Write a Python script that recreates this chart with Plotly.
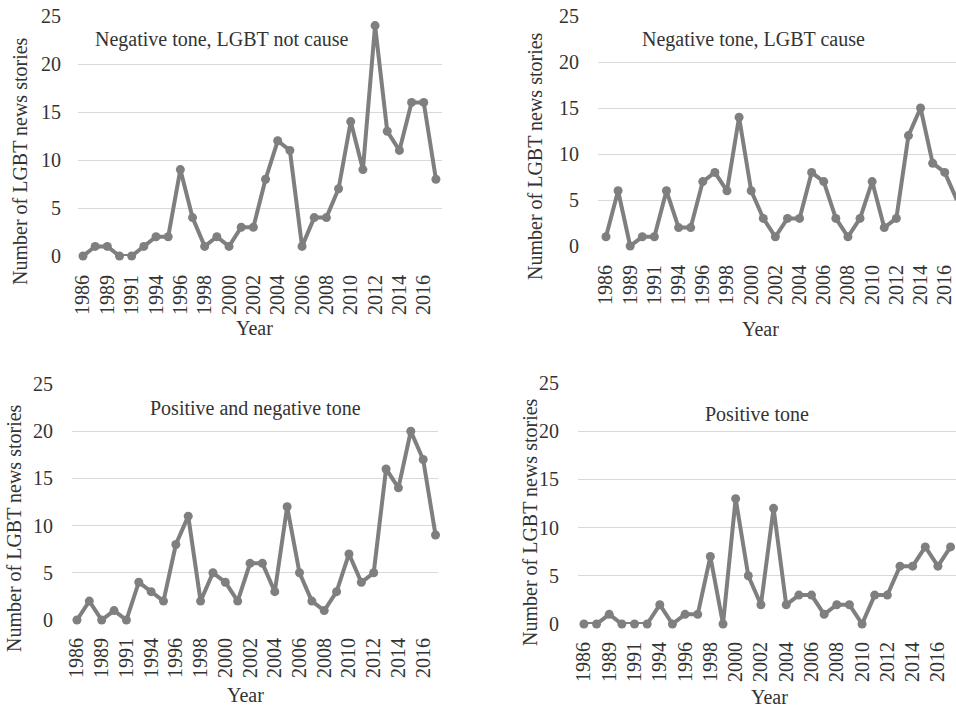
import plotly.graph_objects as go

W, H = 956, 707

years = ["1986", "1987", "1989", "1990", "1991", "1993", "1994", "1995", "1996", "1997",
         "1998", "1999", "2000", "2001", "2002", "2003", "2004", "2005", "2006", "2007",
         "2008", "2009", "2010", "2011", "2012", "2013", "2014", "2015", "2016", "2017"]
tick_years = years[::2]

neg_not_cause = [0, 1, 1, 0, 0, 1, 2, 2, 9, 4, 1, 2, 1, 3, 3, 8, 12, 11, 1, 4,
                 4, 7, 14, 9, 24, 13, 11, 16, 16, 8]
neg_cause = [1, 6, 0, 1, 1, 6, 2, 2, 7, 8, 6, 14, 6, 3, 1, 3, 3, 8, 7, 3,
             1, 3, 7, 2, 3, 12, 15, 9, 8, 5]
pos_and_neg = [0, 2, 0, 1, 0, 4, 3, 2, 8, 11, 2, 5, 4, 2, 6, 6, 3, 12, 5, 2,
               1, 3, 7, 4, 5, 16, 14, 20, 17, 9]
positive = [0, 0, 1, 0, 0, 0, 2, 0, 1, 1, 7, 0, 13, 5, 2, 12, 2, 3, 3, 1,
            2, 2, 0, 3, 3, 6, 6, 8, 6, 8]

panel_titles = ["Negative tone, LGBT not cause", "Negative tone, LGBT cause",
                "Positive and negative tone", "Positive tone"]
y_title = "Number of LGBT news stories"
x_title = "Year"
y_ticks = [0, 5, 10, 15, 20, 25]

FONT = "Liberation Serif"
TXT = "#333333"
LINE = "#7f7f7f"
GRID = "#d9d9d9"

panels = [
    dict(data=neg_not_cause, x0=78, x1=442, yt=16, yb=256, xr=[-0.41, 29.5],
         tc=(222, 40), ytc=(20, 161), xtc=(254, 328), ylo=16, xlo=14),
    dict(data=neg_cause, x0=598, x1=956, yt=16, yb=246, xr=[-0.66, 28.93],
         tc=(753, 40), ytc=(535, 156), xtc=(760, 329), ylo=18, xlo=14),
    dict(data=pos_and_neg, x0=72, x1=438, yt=384, yb=620, xr=[-0.40, 29.2],
         tc=(255, 408), ytc=(14, 528), xtc=(246, 695), ylo=18, xlo=13),
    dict(data=positive, x0=578, x1=956, yt=383, yb=624, xr=[-0.47, 29.43],
         tc=(757, 414), ytc=(530, 522), xtc=(769, 697), ylo=18, xlo=13),
]

fig = go.Figure()
annotations = []
for i, p in enumerate(panels, start=1):
    xa = "x" if i == 1 else f"x{i}"
    ya = "y" if i == 1 else f"y{i}"
    fig.add_trace(go.Scatter(
        x=years, y=p["data"], mode="lines+markers", xaxis=xa, yaxis=ya,
        line=dict(color=LINE, width=4), marker=dict(color=LINE, size=9),
        cliponaxis=False, showlegend=False, hoverinfo="x+y"))
    xkey = "xaxis" if i == 1 else f"xaxis{i}"
    ykey = "yaxis" if i == 1 else f"yaxis{i}"
    fig.layout[xkey] = dict(
        domain=[p["x0"] / W, min(p["x1"] / W, 1.0)], anchor=ya,
        type="category", range=p["xr"], tickmode="array",
        tickvals=tick_years, ticktext=tick_years, tickangle=-90,
        showgrid=False, zeroline=False, showline=False, ticks="",
        automargin=False, ticklabelstandoff=p["xlo"],
        tickfont=dict(family=FONT, size=20, color=TXT))
    fig.layout[ykey] = dict(
        domain=[1 - p["yb"] / H, 1 - p["yt"] / H], anchor=xa,
        range=[0, 25], tickmode="array", tickvals=y_ticks,
        showgrid=True, gridcolor=GRID, gridwidth=1, zeroline=False,
        showline=False, ticks="", automargin=False,
        ticklabelstandoff=p["ylo"],
        tickfont=dict(family=FONT, size=20, color=TXT))
    annotations.append(dict(text=panel_titles[i - 1], x=p["tc"][0] / W, y=1 - p["tc"][1] / H,
                            xref="paper", yref="paper", showarrow=False,
                            xanchor="center", yanchor="middle",
                            font=dict(family=FONT, size=20, color=TXT)))
    annotations.append(dict(text=y_title, x=p["ytc"][0] / W, y=1 - p["ytc"][1] / H,
                            xref="paper", yref="paper", showarrow=False, textangle=-90,
                            xanchor="center", yanchor="middle",
                            font=dict(family=FONT, size=20, color=TXT)))
    annotations.append(dict(text=x_title, x=p["xtc"][0] / W, y=1 - p["xtc"][1] / H,
                            xref="paper", yref="paper", showarrow=False,
                            xanchor="center", yanchor="middle",
                            font=dict(family=FONT, size=20, color=TXT)))

fig.update_layout(
    width=W, height=H, margin=dict(l=0, r=0, t=0, b=0, pad=0),
    paper_bgcolor="white", plot_bgcolor="white",
    annotations=annotations, font=dict(family=FONT, color=TXT),
)

fig.write_html("out.html",
               config={"displayModeBar": False},
               post_script="document.body.style.margin='0';document.body.style.padding='0';"
                           "document.body.style.overflow='hidden';")
